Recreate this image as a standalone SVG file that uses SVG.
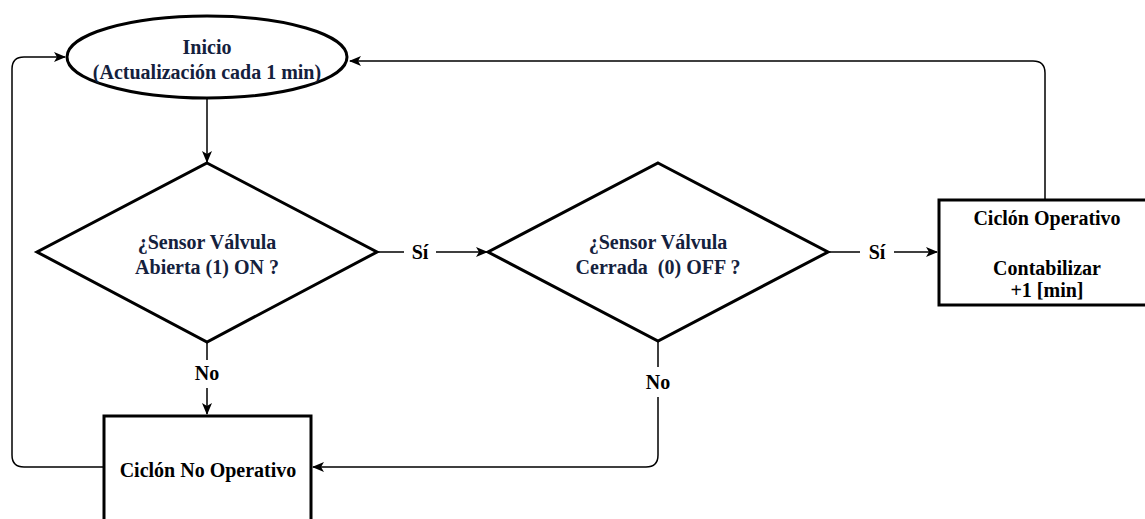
<svg xmlns="http://www.w3.org/2000/svg" width="1145" height="519" viewBox="0 0 1145 519">
<style>
.shape{fill:#fff;stroke:#000;stroke-width:3}
.con{fill:none;stroke:#000;stroke-width:1.5}
.t{font-weight:bold;font-size:20px;text-anchor:middle;fill:#000}
.n{fill:#14213d}
</style>
<defs>
<marker id="arr" markerWidth="12" markerHeight="10" refX="11" refY="5" orient="auto" markerUnits="userSpaceOnUse">
<path d="M0,0 L12,5 L0,10 L3,5 Z" fill="#000"/>
</marker>
</defs>
<rect width="1145" height="519" fill="#fff"/>
<g font-family="Liberation Serif, Times New Roman, serif">
<g id="connectors">
<path class="con" d="M207,98 V162" marker-end="url(#arr)"/>
<path class="con" d="M377,252 H404 M436,252 H487" marker-end="url(#arr)"/>
<path class="con" d="M828,252 H860 M894,252 H937" marker-end="url(#arr)"/>
<path class="con" d="M207,342 V360 M207,388 V414" marker-end="url(#arr)"/>
<path class="con" d="M658,341 V367 M658,397 V455 Q658,467 646,467 H313" marker-end="url(#arr)"/>
<path class="con" d="M103,467 H24 Q12,467 12,455 V69 Q12,57 24,57 H65" marker-end="url(#arr)"/>
<path class="con" d="M1045,200 V73 Q1045,61 1033,61 H350" marker-end="url(#arr)"/>
<text class="t" x="420" y="259">Sí</text>
<text class="t" x="877" y="259">Sí</text>
<text class="t" x="207" y="380">No</text>
<text class="t" x="658" y="389">No</text>
</g>
<g id="inicio">
<ellipse class="shape" cx="207" cy="57" rx="140" ry="41"/>
<text class="t n" x="207" y="54">Inicio</text>
<text class="t n" x="207" y="79">(Actualización cada 1 min)</text>
</g>
<g id="dec1">
<polygon class="shape" points="207,163 377,252 207,342 37,252"/>
<text class="t n" x="207" y="249">¿Sensor Válvula</text>
<text class="t n" x="207" y="274">Abierta (1) ON ?</text>
</g>
<g id="dec2">
<polygon class="shape" points="658,163 828,252 658,341 488,252"/>
<text class="t n" x="658" y="249">¿Sensor Válvula</text>
<text class="t n" x="658" y="274" xml:space="preserve">Cerrada  (0) OFF ?</text>
</g>
<g id="operativo">
<rect class="shape" x="939" y="200" width="220" height="105"/>
<text class="t" x="1047" y="225">Ciclón Operativo</text>
<text class="t" x="1047" y="275">Contabilizar</text>
<text class="t" x="1047" y="297">+1 [min]</text>
</g>
<g id="nooperativo">
<rect class="shape" x="104" y="416" width="207" height="120"/>
<text class="t" x="208" y="477" font-size="21">Ciclón No Operativo</text>
</g>
</g>
</svg>
